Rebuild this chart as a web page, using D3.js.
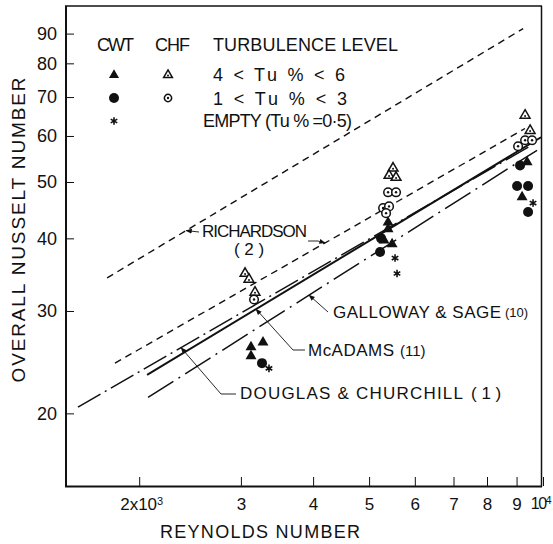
<!DOCTYPE html>
<html>
<head>
<meta charset="utf-8">
<script src="https://cdn.jsdelivr.net/npm/d3@7"></script>
<style>
  body { margin: 0; background: #fff; }
  svg { display: block; }
</style>
</head>
<body>
<script>
// ---- axis ticks ----
const reTicks = [2000, 3000, 4000, 5000, 6000, 7000, 8000, 9000, 10000];
const reTickLabels = ["2x10|3", "3", "4", "5", "6", "7", "8", "9", "10|4"];
const nuTicks = [20, 30, 40, 50, 60, 70, 80, 90];

// ---- measured overall Nusselt numbers, [Re, Nu] ----
// closed-wall tunnel (CWT), 4 < Tu% < 6
const cwtHighTu = [[3123, 26.0], [3276, 26.5], [3123, 25.1],
                   [5393, 42.6], [5393, 41.5], [5307, 39.7], [5480, 39.1],
                   [9386, 54.1], [9200, 47.1]];
// closed-wall tunnel (CWT), 1 < Tu% < 3
const cwtLowTu = [[3263, 24.4],
                  [5244, 40.0], [5224, 37.9],
                  [9126, 53.4], [9019, 49.2], [9423, 49.2], [9423, 44.4]];
// CHF, 4 < Tu% < 6
const chfHighTu = [[3050, 34.8], [3098, 34.0], [3173, 32.3],
                   [5501, 52.8], [5414, 51.3], [5567, 50.9],
                   [9311, 65.1], [9499, 61.3]];
// CHF, 1 < Tu% < 3
const chfLowTu = [[3161, 31.4],
                  [5393, 48.0], [5567, 48.0], [5287, 45.1], [5414, 45.4], [5350, 44.2],
                  [9055, 57.6], [9311, 59.0], [9574, 59.0]];
// empty tunnel, Tu% = 0.5
const emptyTunnel = [[3355, 23.9], [5545, 37.0], [5589, 34.8], [9611, 46.0]];

// ---- correlations, end points [Re, Nu] ----
const richardsonUpper = [[1760, 34.2], [9240, 91.8]];
const richardsonLower = [[1816, 24.4], [9309, 61.8]];
const mcAdams = [[2064, 23.3], [9922, 59.7]];
const douglasChurchill = [[1567, 20.5], [9687, 58.3]];
const gallowaySage = [[2072, 21.3], [9765, 56.7]];

// ---- drawing ----
const W = 553, H = 544;
const FONT = "'Liberation Sans', Arial, sans-serif";
const INK = "#111";

const svg = d3.select("body").append("svg")
  .attr("width", W).attr("height", H)
  .style("font-family", FONT);

const x = d3.scaleLog().domain([1500, 10000]).range([67, 543]);
const y = d3.scaleLog().domain([15, 100]).range([486, 7]);

// arrowhead used by the label leaders
svg.append("defs").append("marker")
  .attr("id", "tip").attr("viewBox", "0 0 10 10")
  .attr("refX", 9).attr("refY", 5)
  .attr("markerWidth", 7).attr("markerHeight", 7)
  .attr("orient", "auto-start-reverse")
  .append("path").attr("d", "M0,1 L10,5 L0,9 z").attr("fill", INK);

// axes with inward ticks
const yAxis = d3.axisLeft(y).tickValues(nuTicks).tickSize(-7).tickSizeOuter(0)
  .tickPadding(10).tickFormat(d3.format("d"));
const gy = svg.append("g").attr("transform", "translate(67,0)").call(yAxis);
gy.select(".domain").remove();
gy.selectAll("line").attr("stroke", INK).attr("stroke-width", 1);
gy.selectAll("text").attr("font-size", 18).attr("font-family", FONT).attr("fill", INK);

const xAxis = d3.axisBottom(x).tickValues(reTicks).tickSize(-9).tickSizeOuter(0)
  .tickPadding(12).tickFormat(() => "");
const gx = svg.append("g").attr("transform", "translate(0,486)").call(xAxis);
gx.select(".domain").remove();
gx.selectAll("line").attr("stroke", INK).attr("stroke-width", 1);
gx.selectAll(".tick text").each(function (d, i) {
  const parts = reTickLabels[i].split("|");
  const t = d3.select(this).attr("font-size", 17).attr("font-family", FONT).attr("fill", INK);
  t.append("tspan").text(parts[0]);
  if (parts[1]) t.append("tspan").attr("dy", "-0.5em").attr("font-size", 11).text(parts[1]);
  if (d === 10000) t.attr("font-size", 16).attr("dx", -3).attr("letter-spacing", -1.5);
  if (d === 2000) t.attr("dx", 2);
});

// plot frame
const frame = svg.append("g").attr("stroke", INK).attr("fill", "none");
frame.append("line").attr("x1", 66).attr("x2", 66).attr("y1", 6).attr("y2", 487).attr("stroke-width", 2);
frame.append("line").attr("x1", 65).attr("x2", 542).attr("y1", 486.5).attr("y2", 486.5).attr("stroke-width", 2);
frame.append("line").attr("x1", 65).attr("x2", 542).attr("y1", 6).attr("y2", 6).attr("stroke-width", 1.5);
frame.append("line").attr("x1", 541.5).attr("x2", 541.5).attr("y1", 6).attr("y2", 487).attr("stroke-width", 1.5);

// axis titles
svg.append("text")
  .attr("transform", "translate(25,230) rotate(-90)")
  .attr("text-anchor", "middle").attr("font-size", 19).attr("fill", INK)
  .attr("textLength", 305)
  .text("OVERALL  NUSSELT  NUMBER");
svg.append("text")
  .attr("x", 160).attr("y", 538).attr("font-size", 18).attr("fill", INK)
  .attr("textLength", 200)
  .text("REYNOLDS  NUMBER");

// correlation lines
const line = d3.line().x(d => x(d[0])).y(d => y(d[1]));
const curves = [
  { pts: richardsonUpper, dash: "7,5", w: 1.4 },
  { pts: richardsonLower, dash: "7,5", w: 1.4 },
  { pts: mcAdams, dash: null, w: 2 },
  { pts: douglasChurchill, dash: "26,5,2,5", w: 1.5 },
  { pts: gallowaySage, dash: "30,6,2,6", w: 1.5 }
];
svg.append("g").selectAll("path").data(curves).join("path")
  .attr("d", c => line(c.pts))
  .attr("fill", "none").attr("stroke", INK)
  .attr("stroke-width", c => c.w)
  .attr("stroke-dasharray", c => c.dash);

// point on a straight log-log correlation at a given Re
function along(pts, re) {
  const [a, b] = pts;
  const t = Math.log(re / a[0]) / Math.log(b[0] / a[0]);
  return [re, Math.exp(Math.log(a[1]) + t * Math.log(b[1] / a[1]))];
}

// markers
function asteriskPath(r) {
  let p = "";
  for (let k = 0; k < 3; k++) {
    const a = Math.PI / 2 + k * Math.PI / 3;
    const dx = r * Math.cos(a), dy = r * Math.sin(a);
    p += `M${-dx},${-dy}L${dx},${dy}`;
  }
  return p;
}
function marker(g, kind, cx, cy, s = 1) {
  const gg = g.append("g").attr("transform", `translate(${cx},${cy})`);
  if (kind === "triFill") {
    gg.append("path").attr("d", d3.symbol(d3.symbolTriangle, 52 * s)()).attr("fill", INK);
  } else if (kind === "triOpen") {
    gg.append("path").attr("d", d3.symbol(d3.symbolTriangle, 42 * s)())
      .attr("fill", "#fff").attr("stroke", INK).attr("stroke-width", 1.5);
    gg.append("circle").attr("r", 1).attr("cy", 0.5).attr("fill", INK);
  } else if (kind === "dotFill") {
    gg.append("circle").attr("r", 5 * s).attr("fill", INK);
  } else if (kind === "dotOpen") {
    gg.append("circle").attr("r", 4.3 * s).attr("fill", "#fff").attr("stroke", INK).attr("stroke-width", 1.5);
    gg.append("circle").attr("r", 1.2).attr("fill", INK);
  } else if (kind === "star") {
    gg.append("path").attr("d", asteriskPath(3.8 * s)).attr("stroke", INK)
      .attr("stroke-width", 1.6).attr("fill", "none");
  }
}

const pts = svg.append("g");
[[chfHighTu, "triOpen"], [chfLowTu, "dotOpen"], [cwtLowTu, "dotFill"],
 [cwtHighTu, "triFill"], [emptyTunnel, "star"]].forEach(([data, kind]) => {
  data.forEach(d => marker(pts, kind, x(d[0]), y(d[1])));
});

// legend
const leg = svg.append("g").attr("fill", INK).attr("font-size", 18);
leg.append("text").attr("x", 97).attr("y", 51).attr("textLength", 37).text("CWT");
leg.append("text").attr("x", 155).attr("y", 51).attr("textLength", 35).text("CHF");
leg.append("text").attr("x", 213).attr("y", 51).attr("textLength", 185).text("TURBULENCE LEVEL");
leg.append("text").attr("x", 213).attr("y", 81).attr("textLength", 132).text("4 < Tu % < 6");
leg.append("text").attr("x", 213).attr("y", 105).attr("textLength", 134).text("1 < Tu % < 3");
leg.append("text").attr("x", 203).attr("y", 127).attr("textLength", 149).text("EMPTY (Tu % =0·5)");
marker(leg, "triFill", 114, 75, 0.85);
marker(leg, "triOpen", 168, 75, 0.8);
marker(leg, "dotFill", 114, 98, 1);
marker(leg, "dotOpen", 168, 98, 0.85);
marker(leg, "star", 114, 121, 1);

// correlation labels and leaders
const ann = svg.append("g").attr("fill", INK);
function leader(points, withTip = true) {
  ann.append("path")
    .attr("d", d3.line()(points))
    .attr("fill", "none").attr("stroke", INK).attr("stroke-width", 0.9)
    .attr("marker-end", withTip ? "url(#tip)" : null);
}
function px(p) { return [x(p[0]), y(p[1])]; }

ann.append("text").attr("x", 202).attr("y", 237).attr("font-size", 17)
  .attr("textLength", 105).text("RICHARDSON");
ann.append("text").attr("x", 249).attr("y", 255).attr("font-size", 17)
  .attr("text-anchor", "middle").text("( 2 )");
leader([[199, 232], px(along(richardsonUpper, 2411))]);
leader([[308, 241], [318, 241], px(along(richardsonLower, 4195))]);

ann.append("text").attr("x", 333).attr("y", 318).attr("font-size", 17)
  .attr("textLength", 168).text("GALLOWAY & SAGE");
ann.append("text").attr("x", 505).attr("y", 317).attr("font-size", 13).text("(10)");
leader([[328, 312], px(along(gallowaySage, 3936))]);

ann.append("text").attr("x", 308).attr("y", 356).attr("font-size", 17)
  .attr("textLength", 86).text("McADAMS");
ann.append("text").attr("x", 400).attr("y", 356).attr("font-size", 15).text("(11)");
leader([[305, 350], [293, 350], px(along(mcAdams, 3186))]);

ann.append("text").attr("x", 240).attr("y", 399).attr("font-size", 17)
  .attr("textLength", 223).text("DOUGLAS & CHURCHILL");
ann.append("text").attr("x", 471).attr("y", 399).attr("font-size", 17).text("( 1 )");
leader([[236, 394], [221, 394], px(along(douglasChurchill, 2363))]);
</script>
</body>
</html>
